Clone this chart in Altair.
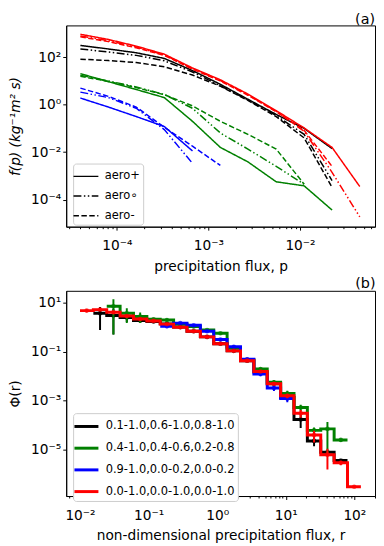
import altair as alt
import pandas as pd

FONT = "DejaVu Sans"

# ---------------- panel (a) ----------------
p_flux = [4.0e-5, 8.1e-5, 1.63e-4, 3.3e-4, 6.7e-4, 1.35e-3, 2.7e-3, 5.5e-3, 1.11e-2, 2.24e-2, 4.5e-2]
a_cases = ["black", "green", "blue", "red"]
a_styles = ["aero+", "aero∘", "aero-"]

# log10 f(p), one list per (colour, style)
a_black_plus = [2.50, 2.35, 2.19, 1.95, 1.44, 0.86, 0.23, -0.41, -1.00, -1.85]
a_black_circ = [2.35, 2.22, 2.08, 1.85, 1.38, 0.80, 0.20, -0.46, -1.25, -3.20]
a_black_minus = [1.92, 1.86, 1.78, 1.60, 1.25, 0.78, 0.18, -0.50, -1.40, -3.48]
a_green_plus = [1.31, 0.97, 0.64, 0.30, -0.70, -1.80, -2.41, -3.25, -3.42, -4.44]
a_green_circ = [1.24, 1.00, 0.75, 0.43, -0.15, -1.19, -1.87, -2.60, -3.35]
a_green_minus = [1.20, 0.98, 0.72, 0.42, -0.05, -0.70, -1.25, -1.87, -3.35]
a_blue_plus = [0.28, -0.10, -0.50, -0.92, -1.95]
a_blue_circ = [0.53, 0.30, -0.15, -1.05, -2.47]
a_blue_minus = [0.70, 0.35, -0.10, -0.95, -1.75, -2.56]
a_red_plus = [2.97, 2.75, 2.47, 2.13, 1.55, 1.05, 0.45, -0.25, -0.98, -1.80, -3.45]
a_red_circ = [2.90, 2.70, 2.43, 2.10, 1.52, 1.02, 0.42, -0.28, -1.12, -2.85, -4.73]
a_red_minus = [2.86, 2.66, 2.40, 2.08, 1.50, 1.00, 0.40, -0.30, -1.08, -2.60]

a_series = {
    ("black", "aero+"): a_black_plus, ("black", "aero∘"): a_black_circ, ("black", "aero-"): a_black_minus,
    ("green", "aero+"): a_green_plus, ("green", "aero∘"): a_green_circ, ("green", "aero-"): a_green_minus,
    ("blue", "aero+"): a_blue_plus, ("blue", "aero∘"): a_blue_circ, ("blue", "aero-"): a_blue_minus,
    ("red", "aero+"): a_red_plus, ("red", "aero∘"): a_red_circ, ("red", "aero-"): a_red_minus,
}

rows = []
for (case, style), vals in a_series.items():
    for p, v in zip(p_flux, vals):
        rows.append({"p": p, "f": 10 ** v, "case": case, "style": style})
df_a = pd.DataFrame(rows)

# ---------------- panel (b) ----------------
b_edges = [0.0100, 0.01567, 0.02455, 0.03846, 0.06026, 0.09441, 0.1479, 0.2317, 0.3631, 0.5689,
           0.8913, 1.396, 2.188, 3.428, 5.370, 8.414, 13.18, 20.65, 32.36, 50.70, 79.43, 124.5]
b_centers = [0.01252, 0.01962, 0.03073, 0.04815, 0.07543, 0.1182, 0.1851, 0.2901, 0.4545, 0.7120,
             1.116, 1.748, 2.738, 4.290, 6.722, 10.53, 16.50, 25.85, 40.50, 63.46, 99.4]
b_labels = ["0.1-1.0,0.6-1.0,0.8-1.0", "0.4-1.0,0.4-0.6,0.2-0.8",
            "0.9-1.0,0.0-0.2,0.0-0.2", "0.0-1.0,0.0-1.0,0.0-1.0"]
b_colors = ["black", "green", "blue", "red"]
b_first_bin = [1, 2, 6, 0]
# log10 Phi(r)
b_black = [0.56, 0.47, 0.39, 0.27, 0.23, 0.13, 0.00, -0.17, -0.40, -0.68, -0.97, -1.37, -1.83,
           -2.31, -2.87, -3.77, -4.64, -5.10, -5.44]
b_green = [0.85, 0.56, 0.43, 0.32, 0.29, 0.12, 0.02, -0.12, -0.25, -0.85, -1.33, -1.71, -2.25,
           -2.71, -3.28, -4.21, -4.15, -4.60]
b_blue = [0.03, 0.16, 0.07, -0.17, -0.51, -0.80, -1.31, -1.91, -2.48, -2.91]
b_red = [0.67, 0.71, 0.60, 0.45, 0.33, 0.25, 0.12, -0.01, -0.17, -0.40, -0.68, -0.97, -1.37,
         -1.81, -2.31, -2.80, -3.51, -4.40, -5.20, -5.53, -6.51]
# relative error of each bin
b_black_err = [0.79, 0.83, 0.35, 0.20, 0.15, 0.10, 0.10, 0.08, 0.08, 0.08, 0.10, 0.10, 0.12,
               0.15, 0.25, 0.55, 0.40, 0.15, 0.15]
b_green_err = [0.93, 0.60, 0.45, 0.15, 0.15, 0.10, 0.10, 0.10, 0.12, 0.12, 0.15, 0.15, 0.20,
               0.30, 0.30, 0.30, 0.90, 0.15]
b_blue_err = [0.08, 0.10, 0.10, 0.10, 0.12, 0.12, 0.15, 0.20, 0.25, 0.30]
b_red_err = [0.15, 0.12, 0.15, 0.12, 0.10, 0.08, 0.08, 0.08, 0.08, 0.08, 0.10, 0.10, 0.10,
             0.12, 0.15, 0.20, 0.35, 0.50, 0.75, 0.20, 0.10]

b_vals = [b_black, b_green, b_blue, b_red]
b_errs = [b_black_err, b_green_err, b_blue_err, b_red_err]

step_rows, pt_rows = [], []
for lab, k0, vals, errs in zip(b_labels, b_first_bin, b_vals, b_errs):
    for i, (v, e) in enumerate(zip(vals, errs)):
        k = k0 + i
        y = 10 ** v
        step_rows.append({"r": b_edges[k], "phi": y, "series": lab, "ord": 2 * i})
        step_rows.append({"r": b_edges[k + 1], "phi": y, "series": lab, "ord": 2 * i + 1})
        pt_rows.append({"r": b_centers[k], "phi": y, "lo": y * (1 - e), "hi": y * (1 + e), "series": lab})
df_step = pd.DataFrame(step_rows)
df_pt = pd.DataFrame(pt_rows)

# ---------------- axes helpers ----------------
E = "round(log(datum.value)/LN10)"
sup = "'' + " + E
for ch, rep in [("-", "⁻"), ("0", "⁰"), ("1", "¹"), ("2", "²"), ("3", "³"), ("4", "⁴"),
                ("5", "⁵"), ("6", "⁶"), ("7", "⁷"), ("8", "⁸"), ("9", "⁹")]:
    sup = f"replace({sup}, '{ch}', '{rep}')"
IS_MAJOR = f"abs(log(datum.value)/LN10 - {E}) < 0.01"
LABEL_EXPR = f"{IS_MAJOR} ? '10' + {sup} : ''"
TICK_SIZE = {"condition": {"test": IS_MAJOR, "value": 3.5}, "value": 2}


def log_ticks(lo, hi):
    out = []
    for e in range(-8, 4):
        for m in range(1, 10):
            v = m * 10.0 ** e
            if lo <= v <= hi:
                out.append(v)
    return out


XA_DOM = [2.8e-5, 6.6e-2]
YA_DOM = [7.2e-6, 2.2e3]
XB_DOM = [6.3e-3, 200]
YB_DOM = [1.3e-7, 30]

xa = alt.X("p:Q", scale=alt.Scale(type="log", domain=XA_DOM, nice=False),
           axis=alt.Axis(values=log_ticks(*XA_DOM), labelExpr=LABEL_EXPR, tickSize=TICK_SIZE,
                         title="precipitation flux, p", labelPadding=9, titlePadding=7))
ya = alt.Y("f:Q", scale=alt.Scale(type="log", domain=YA_DOM, nice=False),
           axis=alt.Axis(values=[1e-4, 1e-2, 1, 100], labelExpr=LABEL_EXPR, tickSize=3.5,
                         title="f(p) (kg⁻¹m² s)", titleFontStyle="italic",
                         minExtent=36, maxExtent=36, titlePadding=8))
xb = alt.X("r:Q", scale=alt.Scale(type="log", domain=XB_DOM, nice=False),
           axis=alt.Axis(values=log_ticks(*XB_DOM), labelExpr=LABEL_EXPR, tickSize=TICK_SIZE,
                         title="non-dimensional precipitation flux, r", labelPadding=9, titlePadding=7))
yb_scale = alt.Scale(type="log", domain=YB_DOM, nice=False)
yb_axis = alt.Axis(values=[10, 0.1, 1e-3, 1e-5], labelExpr=LABEL_EXPR, tickSize=3.5,
                   title="Φ(r)", minExtent=36, maxExtent=36, titlePadding=8)
yb = alt.Y("phi:Q", scale=yb_scale, axis=yb_axis)
yb_lo = alt.Y("lo:Q", scale=yb_scale, axis=yb_axis)

dash_scale = alt.Scale(domain=a_styles, range=[[1, 0], [8, 2.5, 1.5, 2.5, 1.5, 2.5], [5.5, 2.5]])
legend_a = alt.Legend(title=None, orient="none", legendX=7, legendY=140,
                      symbolType="M-1.4,0H1.4", symbolSize=324, symbolStrokeWidth=1.5,
                      symbolStrokeColor="black", labelFontSize=11.6, labelFont=FONT,
                      labelOffset=9, padding=3, rowPadding=4, strokeColor="#cccccc",
                      fillColor="white", cornerRadius=3, labelColor="black")

layers_a = []
for case in a_cases:
    layers_a.append(
        alt.Chart(df_a[df_a["case"] == case]).mark_line(color=case, strokeWidth=1.5, clip=True).encode(
            x=xa, y=ya,
            strokeDash=alt.StrokeDash("style:N", scale=dash_scale, legend=legend_a),
        )
    )
chart_a = alt.layer(*layers_a).properties(
    width=313, height=204,
    title=alt.TitleParams("(a)", anchor="end", fontSize=14.5, fontWeight="normal", font=FONT, offset=-2),
)

color_scale = alt.Scale(domain=b_labels, range=b_colors)
legend_b = alt.Legend(title=None, orient="none", legendX=7, legendY=124,
                      symbolType="M-1.35,0H1.35", symbolSize=324, symbolStrokeWidth=3,
                      labelFontSize=11.6, labelFont=FONT, labelOffset=9, padding=3, rowPadding=5,
                      strokeColor="#cccccc", fillColor="white", cornerRadius=3, labelColor="black")

layers_b = []
for lab in b_labels:
    st = df_step[df_step["series"] == lab]
    pt = df_pt[df_pt["series"] == lab]
    layers_b.append(
        alt.Chart(st).mark_line(strokeWidth=3, clip=True).encode(
            x=xb, y=yb, order="ord:Q",
            color=alt.Color("series:N", scale=color_scale, legend=legend_b),
        )
    )
    layers_b.append(
        alt.Chart(pt).mark_rule(strokeWidth=2, clip=True).encode(
            x=xb, y=yb_lo, y2="hi:Q",
            color=alt.Color("series:N", scale=color_scale, legend=None),
        )
    )
    layers_b.append(
        alt.Chart(pt).mark_circle(size=22, opacity=0.7, clip=True).encode(
            x=xb, y=yb,
            color=alt.Color("series:N", scale=color_scale, legend=None),
        )
    )
chart_b = alt.layer(*layers_b).properties(
    width=313, height=208,
    title=alt.TitleParams("(b)", anchor="end", fontSize=14.5, fontWeight="normal", font=FONT, offset=-1),
)

chart = alt.vconcat(chart_a, chart_b, spacing=2).resolve_scale(
    color="independent", strokeDash="independent"
).resolve_legend(
    color="independent", strokeDash="independent"
).properties(padding=0).configure_axis(
    grid=False, domainColor="black", tickColor="black", labelColor="black", titleColor="black",
    labelFont=FONT, titleFont=FONT, labelFontSize=13.9, titleFontSize=13.9, titleFontWeight="normal",
).configure_view(stroke="black", strokeWidth=1)

chart.save("out.html", embed_options={"renderer": "svg", "actions": False})
